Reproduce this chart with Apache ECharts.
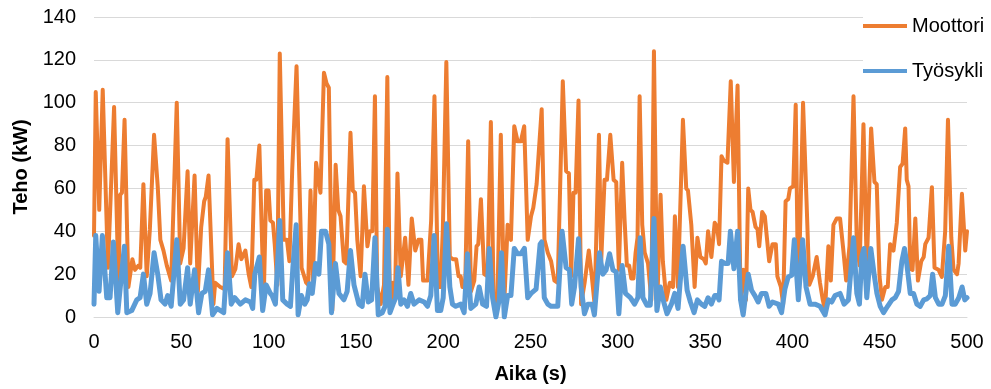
<!DOCTYPE html>
<html><head><meta charset="utf-8">
<script src="https://cdn.jsdelivr.net/npm/echarts@6/dist/echarts.min.js"></script>
<style>html,body{margin:0;padding:0;background:#fff}#c{width:991px;height:389px}</style>
</head><body><div id="c"></div>
<script>
const seriesNames = ['Moottori', 'Työsykli'];
const xTicks = {min: 0, max: 500, interval: 50};
const yTicks = {min: 0, max: 140, interval: 20};

const motorTime = [0,1,3,5,8,11.5,14,15,16,17.5,19.7,22,23.5,25.5,26.5,28.3,30.2,32,34.4,36.5,38,39.8,41.7,44.2,47.4,49.4,51.3,53.6,55.1,57.6,59.5,61.4,63.1,64,65.6,68.4,69.4,72.3,74.8,76.5,79,81,82.8,84.4,86.7,88.6,90.1,91.8,93,94.7,97.2,98.6,100,101,102.5,103.5,105,106.4,108.7,110.5,111.9,113.5,114.5,116,118.9,120,121.5,122.7,124,125.4,127.2,128.3,129.7,131.7,133.2,134.5,136.5,138.4,139.9,141.2,143.1,144.5,146.9,148.2,149.5,150.8,152.7,154.6,156.6,157.9,159.4,160.9,162.2,164.2,166.1,168,169.5,170.9,172.4,173.8,175.7,178.2,180.1,182,184,185.8,187.5,188.5,191,193.1,195,197,198.5,199.8,201.8,203.8,205.5,207.4,208.8,210,211,212.6,214.3,215.9,217.8,219.1,220.1,221.6,223.5,225.4,227.3,228.9,231,233,234.9,236.9,238.8,240.7,242.6,244.5,246.4,248.4,250.3,251.6,253.5,254.5,256.4,258,259.9,261.8,263.7,265.6,268.5,270.4,272,273.3,274.6,275.8,277.5,279,281,283.4,285.1,286.7,289.2,290.5,292.4,293.8,295.7,297.6,299.1,300.6,302.5,303.9,305.2,306.5,307.7,309,310.2,311.3,312.5,314,315.4,317.3,319.2,320.7,322.6,324.5,325.8,327.8,329.8,331.6,332.7,334.4,337.3,339.2,340.2,342.1,344,345.6,347.3,349.2,350.4,351.7,353.6,355.5,356.9,358,359.4,360.7,362.8,364.7,366.5,367.4,368.6,370.3,371.8,373.4,374.7,376,377.2,378.9,380,381,382.7,384.2,385.2,386.7,388.6,390.5,391.4,393.4,394.7,396.1,397.6,398.6,400.5,401.9,403.2,404.2,406.1,408.1,409.7,411.6,413.9,415.8,417.4,418.7,420.6,422,423.5,425.4,427.3,429.2,430.8,432.7,435,436.9,438.5,440.7,442.6,445.1,447,448.3,449.9,451.3,453.2,454.6,456,457.9,459.8,461.7,463.1,464.6,465.5,466.5,467.5,468.8,470.4,471.9,473.8,475.2,476.1,478,479.9,481.4,483.7,485.6,487.5,489.1,491,492.3,494.3,495.2,497.1,499,500];
const motorPower = [38,105,50,106,23,98,15,57,58,92,14,27,22,24,23,62,19,41,85,61,36,31,24,17,100,25,32,68,25,66,12,42,54,56,66,6,16,14,13,83,19,22.5,34,27,31,20,14,64,64,80,8,59,59,45,44,34,15,123,36,36,26,68,68,117,23,23,16,15,59,17,72,72,58,114,109,107,3,71,50,47,26,25,86,59,58,36,19,61,33,40,40,103,14,6,15,112,3,16,9,67,19,37,15,46,31,36,36,17,17,45,103,14,14,41,119,28,27,27,19,19,14,15,82,12,17,33,34,55,20,19,91,8,6,85,5,43,36,89,82,82,89,36,47,51,62,62,97,36,30,26,17,16,110,68,67,19,58,58,101,6,16,31,19,6,85,26,64,64,85,64,63,22,72,45,24,24,18,18,30,37,103,43,30,25,8,124,6,57,26,8,16,14,47,14,92,60,59,43,14,37,28,27,25,40,28,44,42,34,75,73,72,110,63,63,108,8,22,8,60,50,49,42,41,33,49,47,47,26,34,34,19,14,6,54,55,60,61,99,15,34,100,54,15,19,28,16,8,3,33,17,43,46,46,31,17,33,103,34,24,90,23,88,63,62,19,8,14,14,34,31,44,70,71.5,88,64,61,22.5,22,46,17,26,28,34,37,60.6,23,22,18.7,40,92,37,22,20,25,57.5,31,40];

const cycleTime = [0,1,2.9,4.8,7.3,9.2,11.1,13.6,17.4,18.8,21.6,24.5,26.4,28.3,30.2,32.1,34.4,36.5,38.4,40.7,42.2,44.2,47.4,49.4,51.3,53.6,55.1,57.6,59.9,61.8,63.7,65.6,67.9,70.4,74.3,76.5,78.6,80.6,83.8,86.7,89.6,90.9,92.1,94.7,96.6,98.6,101,102,103.9,106.4,108.1,110.6,112.5,113.9,115.8,116.9,118.8,120.7,122.1,123.4,125,126.9,128.8,130.3,132.6,134.5,136,138.3,140.3,143.1,145,146.9,148.9,151.7,153.6,155.2,157.1,159,160.9,162.8,165.1,166.7,168,169.5,171.3,172.8,174.1,175.7,177.6,179.5,181.4,183.3,186.2,189.1,191,192.9,194.8,196.7,198.6,200,201.9,203.8,205.3,207.2,210.1,212,213.9,215.8,218.7,220.6,222.6,224.8,226.4,228.3,230.2,232.1,233.4,235,236.9,238.8,240.7,242.6,244.5,246.5,248.4,250.3,253.2,255.5,256.4,257.9,259.9,261.8,263.7,265.6,268.1,270.4,272.3,273.6,275.2,277.5,279,280.9,282.8,285.3,286.6,289.5,291.4,293.3,295.3,297.2,299.1,300.6,302.5,304.4,307.2,309.6,311.5,312.8,314.4,316.7,318.6,320.7,322.4,324.4,326.3,328.2,330.7,332.6,334.5,337.4,339.7,341.6,343.7,345.6,347.9,349.8,351.7,353.6,355.5,356.9,358,359.4,361.3,363.2,364.5,366.5,368.6,370.3,371.8,374.7,376.6,378.5,380.4,382.3,384.8,386.7,388.6,391.9,393.8,395.7,397.6,399.6,401.1,403.4,405.9,407.8,410.1,412.9,415.8,418.7,420.6,422.5,424.4,427.3,429.6,432.1,433.6,435,436.9,438.4,439.7,441,442.6,444.9,446.8,448.4,450.3,452.2,454.5,457,458.9,460.8,462.7,464.2,465.5,467.5,469.4,471.3,473.2,475.2,477.1,479,480.3,481.9,483.8,485.7,487.6,489.5,491.4,493.3,495.3,497.2,498.7,500];
const cyclePower = [6,38,12,38,9,9,35,2,33,2,3,8,9,20,6,11,30,20,8,6,10,5,36,6,8,23,6,22,2,11,12,22,1,4,2,30,6,9,6,8,7,4,20,28,3,15,11,10,6,45,8,6,5,23,43,1,10,6,8,15.5,11,25,20,40,40,34,2,25,11,8,12,31,15,6,5,20,7,8,37,1,2,5,41,2,6,9,23,6,8,5,11,6,8,7,5,10,38,3,3,9,43.5,14,6,5,6,2,29.5,4,6,14,6,5,32,9,0,8,30,0,10,10,32,29.5,29.5,32,9,11,13,34,35,9,6,5,5,5,40,23,22,6,14,36.5,14,1.5,6,6,1,30,20,22,29.5,22,21,1.5,24,11,9,6,9,37,9,5.5,5.5,46,3,14,7,1.5,6,11,4,33,12.5,7,2,8,6,5,9,6,10,10,8,26,25,25,40,22.5,40,8,1,20,12.5,10,7,11,11,5,7,6,2,13,18.7,19.5,36,8,36,14,6,6,5,1,8,7,10,11,6,8,23,37,11,6,28,32,9,32,20,11,5,2,5,8,9,12,26,32,25,11,11,6,5,8,8.5,10,20,9,6,6,10,33,6,6,9,14,8,9];

const pairs = (xs, ys) => xs.map((x, i) => [x, ys[i]]);

const chart = echarts.init(document.getElementById('c'), null, {renderer: 'canvas'});
const FONT = '"Liberation Sans", Arial, sans-serif';
chart.setOption({
  animation: false,
  backgroundColor: '#fff',
  textStyle: {fontFamily: FONT},
  grid: {left: 94, right: 24, top: 17, bottom: 72},
  legend: {
    orient: 'vertical', left: 863, top: 16, padding: 0, itemGap: 25,
    backgroundColor: '#fff',
    itemWidth: 44, itemHeight: 4, icon: 'rect',
    textStyle: {fontSize: 20, color: '#000', fontFamily: FONT, lineHeight: 12},
    data: seriesNames
  },
  xAxis: {
    type: 'value', min: xTicks.min, max: xTicks.max, interval: xTicks.interval,
    name: 'Aika (s)', nameLocation: 'middle', nameGap: 47,
    nameTextStyle: {fontSize: 20, fontWeight: 'bold', color: '#000', fontFamily: FONT},
    axisLine: {show: true, lineStyle: {color: '#d9d9d9', width: 1}},
    axisTick: {show: false},
    splitLine: {show: false},
    axisLabel: {fontSize: 20, color: '#000', margin: 15, fontFamily: FONT}
  },
  yAxis: {
    type: 'value', min: yTicks.min, max: yTicks.max, interval: yTicks.interval,
    name: 'Teho (kW)', nameLocation: 'middle', nameGap: 60,
    nameTextStyle: {fontSize: 20, fontWeight: 'bold', color: '#000', fontFamily: FONT},
    axisLine: {show: false}, axisTick: {show: false},
    splitLine: {show: true, lineStyle: {color: '#d9d9d9', width: 1}},
    axisLabel: {fontSize: 20, color: '#000', margin: 18, fontFamily: FONT}
  },
  series: [
    {name: seriesNames[0], type: 'line', data: pairs(motorTime, motorPower), showSymbol: false,
     color: '#ED7D31', lineStyle: {width: 4, color: '#ED7D31', join: 'round', cap: 'round'}},
    {name: seriesNames[1], type: 'line', data: pairs(cycleTime, cyclePower), showSymbol: false,
     color: '#5B9BD5', lineStyle: {width: 5, color: '#5B9BD5', join: 'round', cap: 'round'}}
  ]
});
</script></body></html>
